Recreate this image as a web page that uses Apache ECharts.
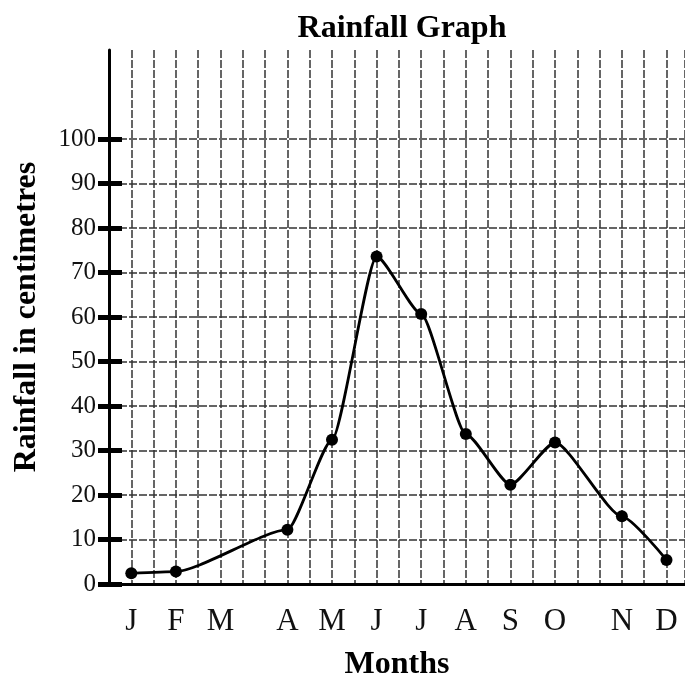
<!DOCTYPE html>
<html>
<head>
<meta charset="utf-8">
<script src="https://cdn.jsdelivr.net/npm/echarts@6/dist/echarts.min.js"></script>
<style>
html,body{margin:0;padding:0;background:#fff;}
#chart{width:685px;height:675px;}
</style>
</head>
<body>
<div id="chart"></div>
<script>
// Month labels and each month's position on the graph-paper x scale (grid squares)
var months = ['J','F','M','A','M','J','J','A','S','O','N','D'];
var monthGridPos = [1, 3, 5, 8, 10, 12, 14, 16, 18, 20, 23, 25];
// Rainfall in centimetres (March not plotted)
var rainfall = [2.4, 2.8, null, 12.2, 32.4, 73.6, 60.7, 33.7, 22.3, 31.8, 15.2, 5.4];
// Y tick labels
var yTicks = [0, 10, 20, 30, 40, 50, 60, 70, 80, 90, 100];

var points = [];
for (var i = 0; i < months.length; i++) {
  if (rainfall[i] !== null) points.push([monthGridPos[i], rainfall[i]]);
}

var serif = '"Liberation Serif", "DejaVu Serif", serif';
var gridLine = { color: '#333', width: 1.5, type: [8, 2] };

var chart = echarts.init(document.getElementById('chart'));
chart.setOption({
  animation: false,
  backgroundColor: '#fff',
  title: {
    text: 'Rainfall Graph',
    left: 397, top: 8, textAlign: 'center',
    textStyle: { fontFamily: serif, fontWeight: 'bold', fontSize: 32, color: '#000' }
  },
  grid: { left: 109, right: 0, top: 50, bottom: 91, containLabel: false, outerBoundsMode: 'none' },
  xAxis: [{
    type: 'value', min: 0, max: 25.83, interval: 1, position: 'bottom',
    name: 'Months', nameLocation: 'middle', nameGap: 65,
    nameTextStyle: { fontFamily: serif, fontWeight: 'bold', fontSize: 32, color: '#000' },
    axisLine: { show: true, onZero: false, lineStyle: { color: '#000', width: 3 } },
    axisTick: { show: false },
    axisLabel: {
      customValues: monthGridPos,
      formatter: function (v) { var k = monthGridPos.indexOf(v); return k >= 0 ? months[k] : ''; },
      fontFamily: serif, fontSize: 31, color: '#111', margin: 22
    },
    splitLine: { show: true, lineStyle: gridLine }
  }, {
    type: 'value', min: 0, max: 25.83, position: 'top',
    axisLine: { show: true, lineStyle: { color: '#000', width: 3 } },
    axisTick: { show: false }, axisLabel: { show: false }, splitLine: { show: false }
  }],
  yAxis: [{
    type: 'value', min: 0, max: 120, interval: 5,
    name: 'Rainfall in centimetres', nameLocation: 'middle', nameGap: 66, nameRotate: 90,
    nameTextStyle: { fontFamily: serif, fontWeight: 'bold', fontSize: 32, color: '#000' },
    axisLine: { show: true, lineStyle: { color: '#000', width: 3 } },
    axisTick: { show: true, customValues: yTicks, length: 11, inside: false, lineStyle: { color: '#000', width: 5 } },
    axisLabel: { customValues: yTicks, fontFamily: serif, fontSize: 25, color: '#111', margin: 13 },
    splitLine: { show: true, lineStyle: gridLine }
  }, {
    type: 'value', min: 0, max: 120, position: 'left', offset: 0,
    axisLine: { show: false },
    axisTick: { show: true, customValues: yTicks, length: 13, inside: true, lineStyle: { color: '#000', width: 5 } },
    axisLabel: { show: false }, splitLine: { show: false }
  }],
  series: [{
    type: 'line', xAxisIndex: 0, yAxisIndex: 0,
    data: points,
    smooth: 0.2,
    smoothMonotone: 'x',
    symbol: 'circle', symbolSize: 12,
    itemStyle: { color: '#000' },
    lineStyle: { color: '#000', width: 2.8 },
    z: 5
  }]
});
</script>
</body>
</html>
